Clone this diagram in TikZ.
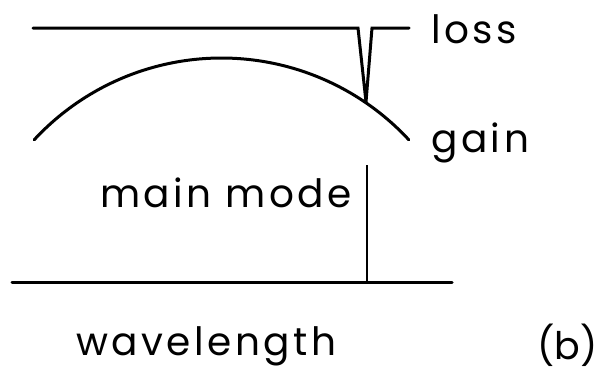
\documentclass[tikz,border=0pt]{standalone}
\usepackage{fontspec}
\setmainfont{Poppins}
\newfontfamily\spaced{Poppins}[LetterSpace=9]
\begin{document}
\begin{tikzpicture}[x=1pt,y=-1pt,
  curve/.style={line width=3pt,line join=miter,line cap=round},
  thin line/.style={line width=2pt},
  lbl/.style={inner sep=0pt,anchor=base west,font=\spaced\fontsize{39}{44}\selectfont}]
  \useasboundingbox (0,0) rectangle (609,376);

  % loss curve with its narrow dip at the main mode
  \coordinate (l0) at (33,28);
  \coordinate (l1) at (358,28);
  \coordinate (tip) at (366,102);
  \coordinate (l2) at (372,28);
  \coordinate (l3) at (409,28);
  \draw[curve] (l0) -- (l1) -- (tip) -- (l2) -- (l3);

  % gain curve: a circular arc
  \coordinate (gc) at (221.5,313.4);
  \draw[curve] (gc) ++(137.2:-255.4) arc[start angle=137.2,end angle=42.8,radius=-255.4];

  % wavelength axis and the main mode line
  \coordinate (a0) at (12,282);
  \coordinate (a1) at (452,282);
  \coordinate (m0) at (367,165);
  \coordinate (m1) at (367,282);
  \draw[curve] (a0) -- (a1);
  \draw[thin line] (m0) -- (m1);

  % labels
  \node[lbl] (loss) at (431,43) {loss};
  \node[lbl] (gain) at (431,152) {gain};
  \node[lbl] (main) at (100,207) {main mode};
  \node[lbl] (wl) at (76,355) {wavelength};
  \node[lbl,font=\rmfamily\fontsize{38}{44}\selectfont] (b) at (537,359) {(b)};
\end{tikzpicture}
\end{document}
